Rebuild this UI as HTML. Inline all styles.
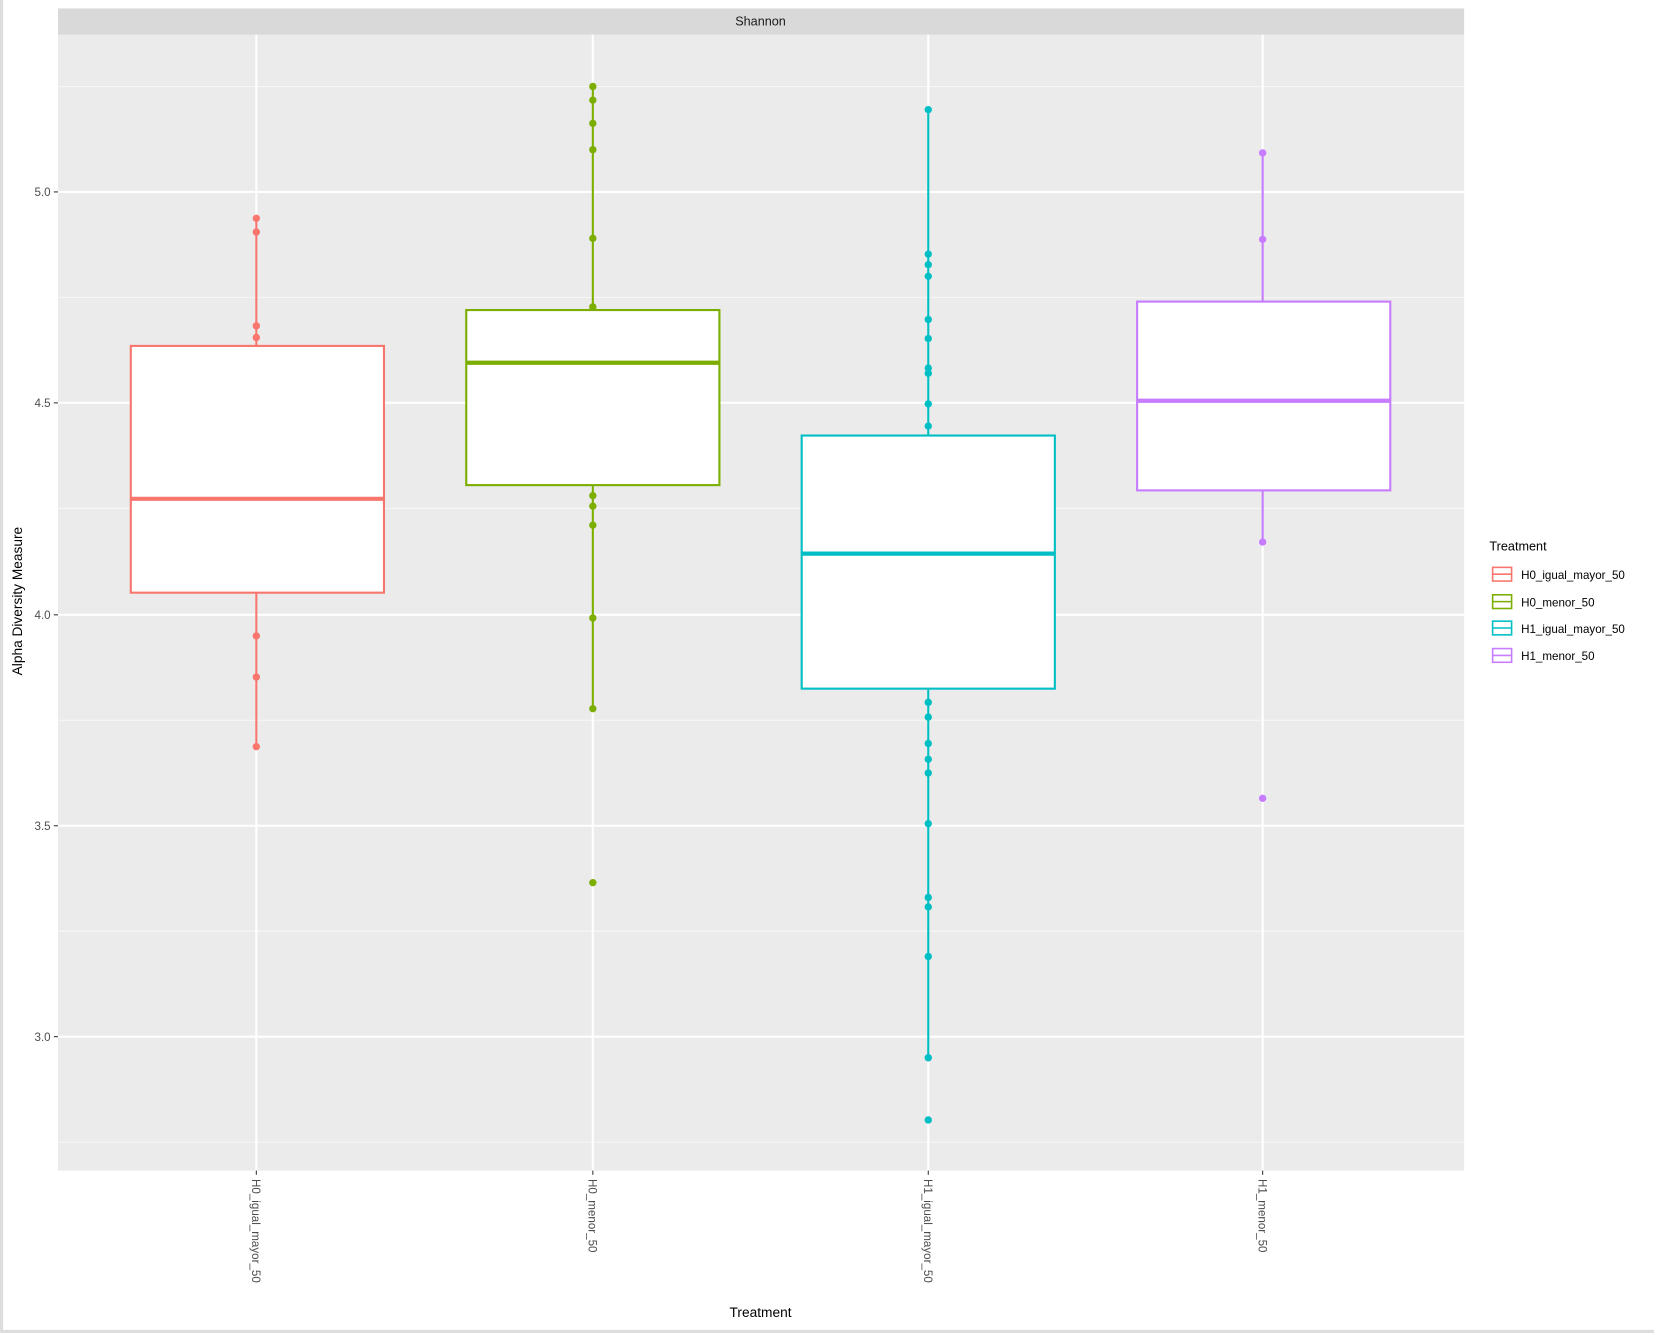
<!DOCTYPE html>
<html><head><meta charset="utf-8"><style>
html,body{margin:0;padding:0;background:#fff;}
svg{display:block;}
text{font-family:"Liberation Sans",Arial,sans-serif;}
</style></head><body>
<svg width="1654" height="1333" viewBox="0 0 1568 1264" preserveAspectRatio="none" xmlns="http://www.w3.org/2000/svg">
<rect x="0" y="0" width="1568" height="1264" fill="#fff"/>
<rect x="0" y="0" width="3" height="1264" fill="#ddd"/>
<rect x="0" y="1261" width="1568" height="3" fill="#ddd"/>
<!-- strip -->
<rect x="55" y="8" width="1333" height="25" fill="#d9d9d9"/>
<text x="721" y="24" font-size="12" text-anchor="middle" fill="#1a1a1a">Shannon</text>
<!-- panel -->
<rect x="55" y="33" width="1333" height="1077" fill="#ebebeb"/>
<g stroke="#f7f7f7" stroke-width="1">
<line x1="55" x2="1388" y1="82" y2="82"/><line x1="55" x2="1388" y1="282" y2="282"/><line x1="55" x2="1388" y1="482" y2="482"/><line x1="55" x2="1388" y1="683" y2="683"/><line x1="55" x2="1388" y1="883" y2="883"/><line x1="55" x2="1388" y1="1083" y2="1083"/>
</g>
<g stroke="#fff" stroke-width="2">
<line x1="55" x2="1388" y1="182" y2="182"/><line x1="55" x2="1388" y1="382" y2="382"/><line x1="55" x2="1388" y1="583" y2="583"/><line x1="55" x2="1388" y1="783" y2="783"/><line x1="55" x2="1388" y1="983" y2="983"/>
<line x1="243" x2="243" y1="33" y2="1110"/><line x1="562" x2="562" y1="33" y2="1110"/><line x1="880" x2="880" y1="33" y2="1110"/><line x1="1197" x2="1197" y1="33" y2="1110"/>
</g>
<!-- y ticks -->
<g font-size="11" fill="#4d4d4d" text-anchor="end">
<text x="48" y="186">5.0</text><text x="48" y="386">4.5</text><text x="48" y="587">4.0</text><text x="48" y="787">3.5</text><text x="48" y="987">3.0</text>
</g>
<g stroke="#333" stroke-width="1"><line x1="51" x2="55" y1="182" y2="182"/><line x1="51" x2="55" y1="382" y2="382"/><line x1="51" x2="55" y1="583" y2="583"/><line x1="51" x2="55" y1="783" y2="783"/><line x1="51" x2="55" y1="983" y2="983"/>
<line x1="243" x2="243" y1="1110" y2="1114"/><line x1="562" x2="562" y1="1110" y2="1114"/><line x1="880" x2="880" y1="1110" y2="1114"/><line x1="1197" x2="1197" y1="1110" y2="1114"/></g>
<!-- x tick labels -->
<g font-size="11" fill="#4d4d4d">
<text transform="translate(239,1118) rotate(90)">H0_igual_mayor_50</text>
<text transform="translate(558,1118) rotate(90)">H0_menor_50</text>
<text transform="translate(876,1118) rotate(90)">H1_igual_mayor_50</text>
<text transform="translate(1193,1118) rotate(90)">H1_menor_50</text>
</g>
<text x="721" y="1249" font-size="13" text-anchor="middle" fill="#000">Treatment</text>
<text transform="translate(21,570) rotate(-90)" font-size="13" text-anchor="middle" fill="#000">Alpha Diversity Measure</text>
<!-- box1 -->
<g stroke="#F8766D" stroke-width="2" fill="#F8766D">
<line x1="243" x2="243" y1="207" y2="328"/><line x1="243" x2="243" y1="562" y2="708"/>
<rect x="124" y="328" width="240" height="234" fill="#fff"/>
<line x1="124" x2="364" y1="473" y2="473" stroke-width="4"/>
<circle cx="243" cy="207" r="3.5" stroke="none"/><circle cx="243" cy="220" r="3.5" stroke="none"/><circle cx="243" cy="309" r="3.5" stroke="none"/><circle cx="243" cy="320" r="3.5" stroke="none"/><circle cx="243" cy="603" r="3.5" stroke="none"/><circle cx="243" cy="642" r="3.5" stroke="none"/><circle cx="243" cy="708" r="3.5" stroke="none"/>
</g>
<!-- box2 -->
<g stroke="#7CAE00" stroke-width="2" fill="#7CAE00">
<line x1="562" x2="562" y1="82" y2="294"/><line x1="562" x2="562" y1="460" y2="672"/>
<rect x="442" y="294" width="240" height="166" fill="#fff"/>
<line x1="442" x2="682" y1="344" y2="344" stroke-width="4"/>
<g stroke="none"><circle cx="562" cy="82" r="3.5"/><circle cx="562" cy="95" r="3.5"/><circle cx="562" cy="117" r="3.5"/><circle cx="562" cy="142" r="3.5"/><circle cx="562" cy="226" r="3.5"/><circle cx="562" cy="291" r="3.5"/><circle cx="562" cy="470" r="3.5"/><circle cx="562" cy="480" r="3.5"/><circle cx="562" cy="498" r="3.5"/><circle cx="562" cy="586" r="3.5"/><circle cx="562" cy="672" r="3.5"/><circle cx="562" cy="837" r="3.5"/></g>
</g>
<!-- box3 -->
<g stroke="#00BFC4" stroke-width="2" fill="#00BFC4">
<line x1="880" x2="880" y1="104" y2="413"/><line x1="880" x2="880" y1="653" y2="1003"/>
<rect x="760" y="413" width="240" height="240" fill="#fff"/>
<line x1="760" x2="1000" y1="525" y2="525" stroke-width="4"/>
<g stroke="none"><circle cx="880" cy="104" r="3.5"/><circle cx="880" cy="241" r="3.5"/><circle cx="880" cy="251" r="3.5"/><circle cx="880" cy="262" r="3.5"/><circle cx="880" cy="303" r="3.5"/><circle cx="880" cy="321" r="3.5"/><circle cx="880" cy="349" r="3.5"/><circle cx="880" cy="354" r="3.5"/><circle cx="880" cy="383" r="3.5"/><circle cx="880" cy="404" r="3.5"/><circle cx="880" cy="666" r="3.5"/><circle cx="880" cy="680" r="3.5"/><circle cx="880" cy="705" r="3.5"/><circle cx="880" cy="720" r="3.5"/><circle cx="880" cy="733" r="3.5"/><circle cx="880" cy="781" r="3.5"/><circle cx="880" cy="851" r="3.5"/><circle cx="880" cy="860" r="3.5"/><circle cx="880" cy="907" r="3.5"/><circle cx="880" cy="1003" r="3.5"/><circle cx="880" cy="1062" r="3.5"/></g>
</g>
<!-- box4 -->
<g stroke="#C77CFF" stroke-width="2" fill="#C77CFF">
<line x1="1197" x2="1197" y1="145" y2="286"/><line x1="1197" x2="1197" y1="465" y2="514"/>
<rect x="1078" y="286" width="240" height="179" fill="#fff"/>
<line x1="1078" x2="1318" y1="380" y2="380" stroke-width="4"/>
<g stroke="none"><circle cx="1197" cy="145" r="3.5"/><circle cx="1197" cy="227" r="3.5"/><circle cx="1197" cy="514" r="3.5"/><circle cx="1197" cy="757" r="3.5"/></g>
</g>
<!-- legend -->
<text x="1412" y="522" font-size="12" fill="#000">Treatment</text>
<g stroke-width="1.5" fill="#fff">
<rect x="1415" y="538" width="18" height="13" stroke="#F8766D"/><line x1="1415" x2="1433" y1="544.5" y2="544.5" stroke="#F8766D"/>
<rect x="1415" y="564" width="18" height="13" stroke="#7CAE00"/><line x1="1415" x2="1433" y1="570.5" y2="570.5" stroke="#7CAE00"/>
<rect x="1415" y="589" width="18" height="13" stroke="#00BFC4"/><line x1="1415" x2="1433" y1="595.5" y2="595.5" stroke="#00BFC4"/>
<rect x="1415" y="615" width="18" height="13" stroke="#C77CFF"/><line x1="1415" x2="1433" y1="621.5" y2="621.5" stroke="#C77CFF"/>
</g>
<g font-size="11" fill="#000">
<text x="1442" y="549">H0_igual_mayor_50</text>
<text x="1442" y="575">H0_menor_50</text>
<text x="1442" y="600">H1_igual_mayor_50</text>
<text x="1442" y="626">H1_menor_50</text>
</g>
</svg>
</body></html>
